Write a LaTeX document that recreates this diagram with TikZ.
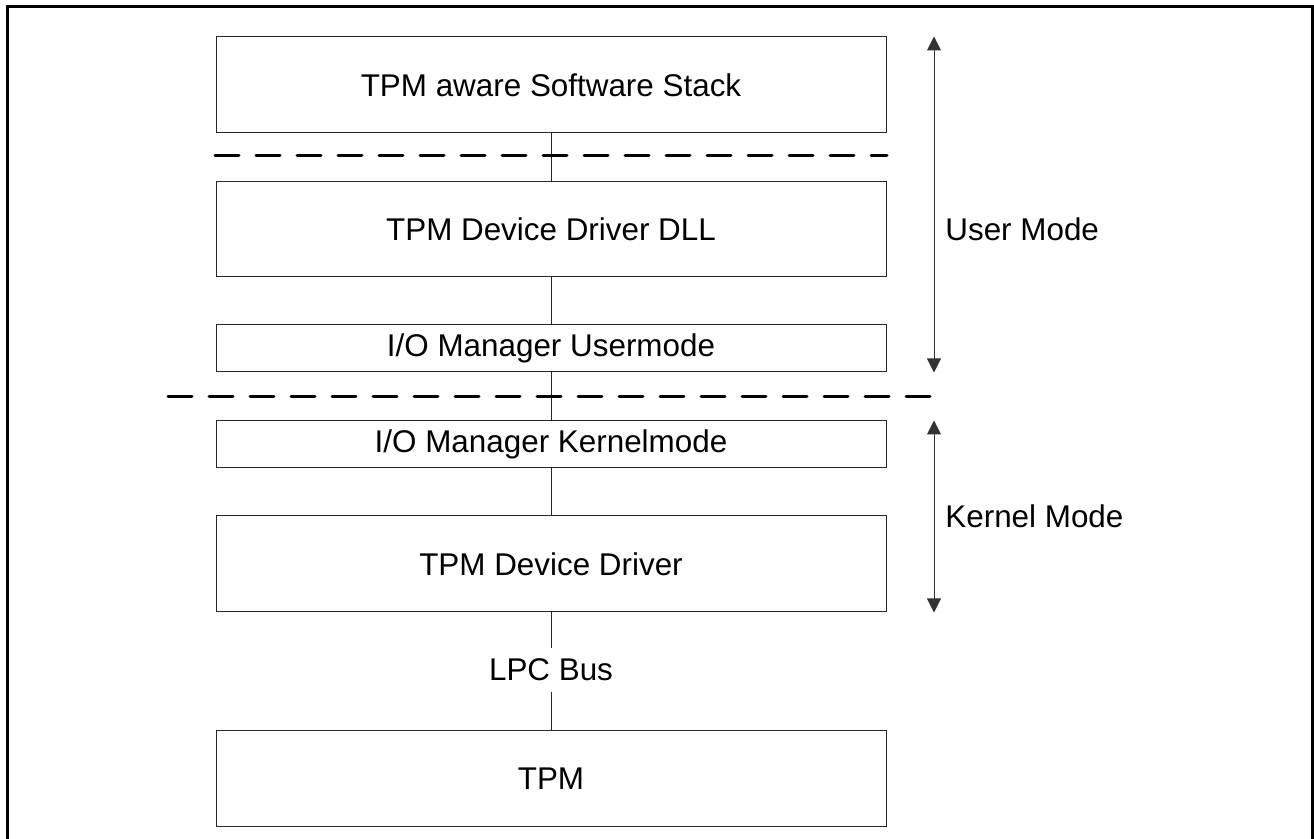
\documentclass[tikz,border=0pt]{standalone}
\usepackage{fontspec}
\setmainfont{Liberation Sans}
\usetikzlibrary{arrows.meta}

\tikzset{
  layer/.style={draw=black!85, line width=0.5pt, minimum width=335pt, inner sep=0pt, font=\fontsize{15.7}{18}\selectfont},
  link/.style={draw=black!85, line width=0.5pt},
  border/.style={dashed, line width=1.5pt, line cap=round, dash pattern=on 12pt off 8.5pt},
  modearrow/.style={line width=0.5pt, draw=black!80, {Triangle[width=7pt,length=7pt]}-{Triangle[width=7pt,length=7pt]}},
  modelabel/.style={anchor=west, inner sep=0pt, font=\fontsize{15.7}{18}\selectfont}
}

\begin{document}
\begin{tikzpicture}[x=0.5pt, y=-0.5pt]

    \useasboundingbox (0,0) rectangle (1314,839);

    % Frame
    \draw[line width=1.5pt] (7.5,860) -- (7.5,6.5) -- (1312,6.5) -- (1312,860);

    % Layers
    \node[layer, minimum height=48pt] (stack) at (551,85) {TPM aware Software Stack};
    \node[layer, minimum height=47.5pt] (dll) at (551,229) {TPM Device Driver DLL};
    \node[layer, minimum height=23.5pt] (iouser) at (551,348.5) {I/O Manager Usermode};
    \node[layer, minimum height=23.5pt] (iokernel) at (551,444.5) {I/O Manager Kernelmode};
    \node[layer, minimum height=48pt] (driver) at (551,564) {TPM Device Driver};
    \node[layer, minimum height=48pt] (tpm) at (551,779) {TPM};
    \node[inner sep=0pt, minimum height=21.5pt, font=\fontsize{15.7}{18}\selectfont] (lpc) at (551,670) {LPC Bus};

    % Links
    \draw[link] (stack) -- (dll);
    \draw[link] (dll) -- (iouser);
    \draw[link] (iouser) -- (iokernel);
    \draw[link] (iokernel) -- (driver);
    \draw[link] (driver) -- (lpc);
    \draw[link] (lpc) -- (tpm);

    % Mode borders
    \draw[border] (215,156) -- (887,156);
    \draw[border] (168,397) -- (934,397);

    % Mode ranges
    \coordinate (mx) at (934,0);
    \draw[modearrow] (stack.north -| mx) -- (iouser.south -| mx);
    \draw[modearrow] (iokernel.north -| mx) -- (driver.south -| mx);
    \node[modelabel] (user) at (945,229) {User Mode};
    \node[modelabel] (kernel) at (945,516) {Kernel Mode};

\end{tikzpicture}
\end{document}
